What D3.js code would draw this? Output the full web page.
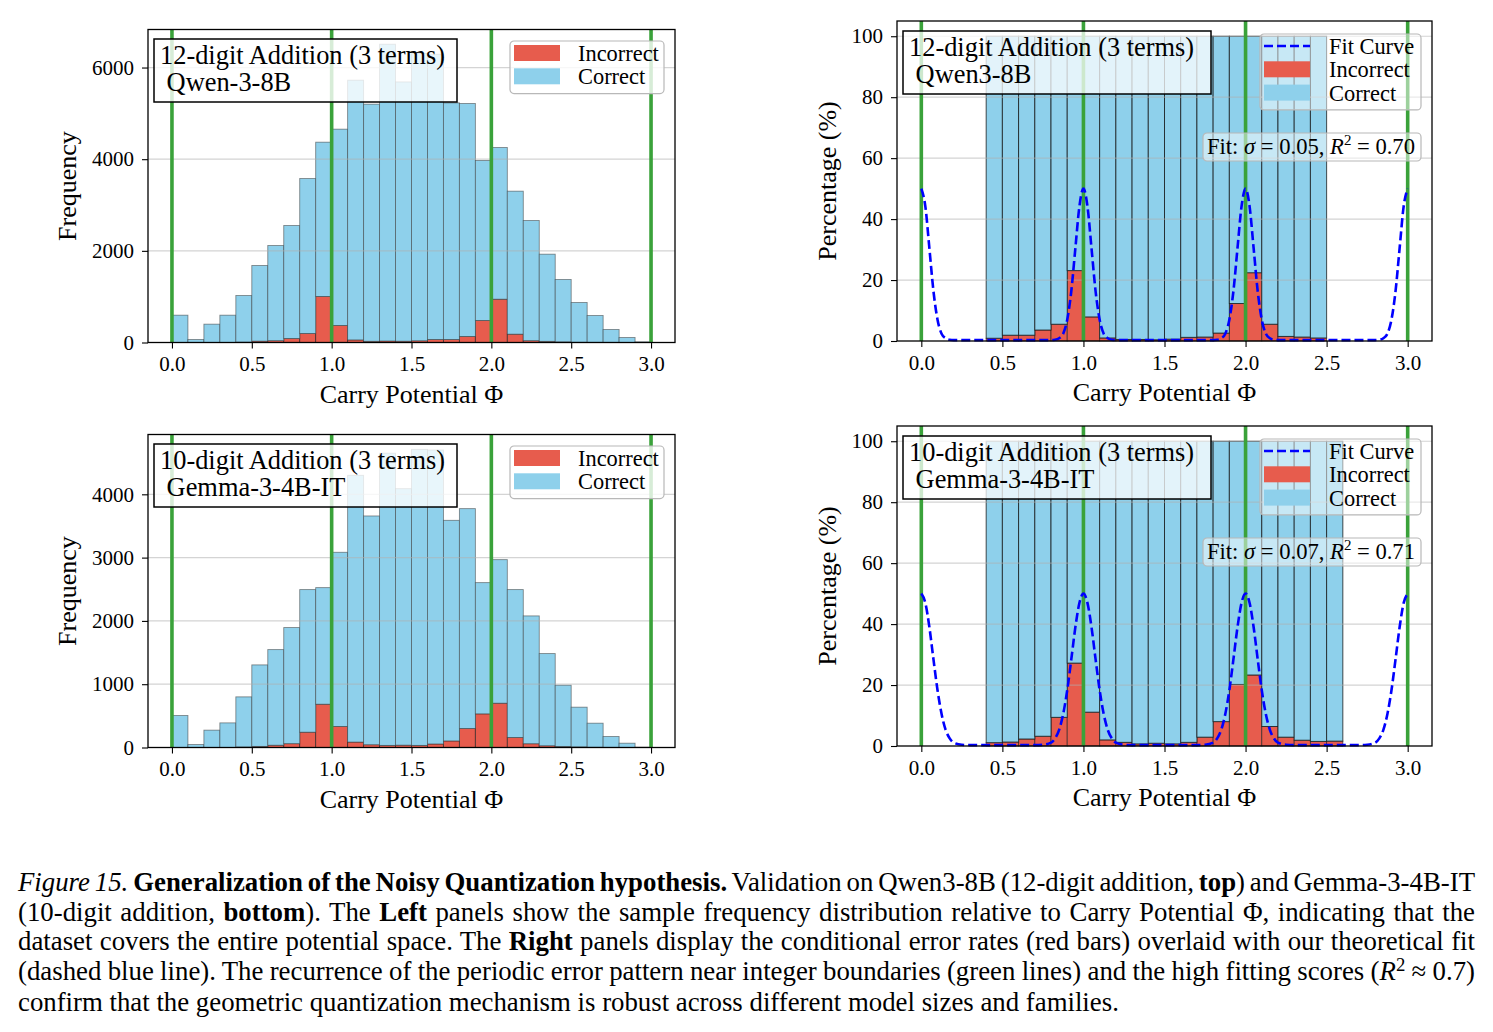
<!DOCTYPE html>
<html>
<head>
<meta charset="utf-8">
<script src="https://cdn.jsdelivr.net/npm/d3@7"></script>
<style>
  body { margin: 0; background: #fff; }
  #chart { position: relative; width: 1493px; height: 1032px; }
  svg text { font-family: "Liberation Serif", "Times New Roman", serif; fill: #000; }
  #caption {
    position: absolute; left: 18px; top: 868px; width: 1457px;
    font-family: "Liberation Serif", "Times New Roman", serif;
    font-size: 26.8px; line-height: 29.6px; color: #000;
  }
  #caption .ln { text-align: justify; text-align-last: justify; word-spacing: -3px; }
  #caption .ln.last { text-align: left; text-align-last: left; word-spacing: 0; }
  #caption .nb { white-space: nowrap; }
  #caption sup { font-size: 0.7em; vertical-align: 0; position: relative; top: -0.45em; }
</style>
</head>
<body>
<div id="chart"></div>
<script>
// histogram bins (left edge of each 0.1-wide bin)
const binWidth = 0.1;
const binStarts = [0.0, 0.1, 0.2, 0.3, 0.4, 0.5, 0.6, 0.7, 0.8, 0.9,
                   1.0, 1.1, 1.2, 1.3, 1.4, 1.5, 1.6, 1.7, 1.8, 1.9,
                   2.0, 2.1, 2.2, 2.3, 2.4, 2.5, 2.6, 2.7, 2.8, 2.9];

// Qwen3-8B, 12-digit addition: sample counts per bin
const qwenCorrect   = [596, 65, 400, 596, 1016, 1650, 2076, 2466, 3382, 3367,
                       4284, 5667, 5174, 6476, 5658, 6267, 6225, 5164, 5084, 3491,
                       3310, 3120, 2622, 1902, 1361, 868, 586, 282, 108, 15];
const qwenIncorrect = [0, 0, 0, 0, 9, 30, 40, 87, 196, 1004,
                       371, 57, 26, 33, 28, 38, 65, 65, 131, 480,
                       945, 182, 40, 25, 14, 5, 3, 2, 1, 0];

// Gemma-3-4B-IT, 10-digit addition: sample counts per bin
const gemmaCorrect   = [505, 47, 274, 389, 791, 1288, 1511, 1834, 2253, 1842,
                        2752, 4214, 3614, 4617, 4052, 4677, 4644, 3485, 3474, 2073,
                        2268, 2337, 2019, 1456, 969, 627, 380, 172, 67, 5];
const gemmaIncorrect = [0, 0, 0, 0, 9, 17, 36, 61, 242, 684,
                        332, 86, 44, 33, 37, 33, 56, 104, 300, 532,
                        700, 158, 60, 28, 15, 10, 4, 2, 1, 0];

// error rate (%) per bin, right panels
const qwenPctBins = [0.4, 0.5, 0.6, 0.7, 0.8, 0.9, 1.0, 1.1, 1.2, 1.3, 1.4,
                     1.5, 1.6, 1.7, 1.8, 1.9, 2.0, 2.1, 2.2, 2.3, 2.4];
const qwenPctIncorrect = [0.9, 1.9, 1.9, 3.6, 5.5, 23.1, 7.9, 1.0, 0.5, 0.5, 0.4,
                          0.6, 1.2, 1.3, 2.6, 12.3, 22.4, 5.5, 1.5, 1.3, 1.0];
const gemmaPctBins = [0.4, 0.5, 0.6, 0.7, 0.8, 0.9, 1.0, 1.1, 1.2, 1.3, 1.4,
                      1.5, 1.6, 1.7, 1.8, 1.9, 2.0, 2.1, 2.2, 2.3, 2.4, 2.5];
const gemmaPctIncorrect = [1.1, 1.3, 2.3, 3.2, 9.4, 27.2, 11.1, 2.0, 1.2, 0.7, 0.9,
                           0.7, 1.2, 2.9, 8.0, 20.2, 23.3, 6.4, 2.9, 1.9, 1.5, 1.6];

// fit curve: value read at distance from the nearest integer boundary
const fitOffsets = [0, 0.025, 0.05, 0.075, 0.1, 0.125, 0.15, 0.175, 0.2, 0.25, 0.3, 0.4, 0.5];
const qwenFit    = [50, 44.1, 30.3, 16.3, 7.0, 2.4, 0.9, 0.4, 0.3, 0.3, 0.3, 0.3, 0.3];
const gemmaFit   = [50, 46.9, 38.9, 28.4, 18.3, 10.5, 5.3, 2.5, 1.1, 0.4, 0.3, 0.3, 0.3];

const boundaries = [0, 1, 2, 3];
const xTicks = [0, 0.5, 1, 1.5, 2, 2.5, 3];
const qwenFreqTicks = [0, 2000, 4000, 6000];
const gemmaFreqTicks = [0, 1000, 2000, 3000, 4000];
const pctTicks = [0, 20, 40, 60, 80, 100];

const RED = "#e75c4d", BLUE = "#8ed0eb", GREEN = "#3aa23a";

const svg = d3.select("#chart").append("svg")
    .attr("width", 1493).attr("height", 850)
    .style("position", "absolute").style("left", 0).style("top", 0);

function axes(g, p, x, y, yTicks, fmt) {
    g.append("g")
        .attr("transform", `translate(0,${p.bottom})`)
        .call(d3.axisBottom(x).tickValues(xTicks).tickFormat(d3.format(".1f"))
            .tickSize(6).tickPadding(8).tickSizeOuter(0))
        .attr("font-size", 21)
        .call(a => a.select(".domain").remove());
    g.append("g")
        .attr("transform", `translate(${p.left},0)`)
        .call(d3.axisLeft(y).tickValues(yTicks).tickFormat(fmt)
            .tickSize(6).tickPadding(8).tickSizeOuter(0))
        .attr("font-size", 21)
        .call(a => a.select(".domain").remove());
    g.selectAll(".tick line").attr("stroke", "#000").attr("stroke-width", 1.1);

    // frame
    g.append("rect")
        .attr("x", p.left).attr("y", p.top)
        .attr("width", p.right - p.left).attr("height", p.bottom - p.top)
        .attr("fill", "none").attr("stroke", "#000").attr("stroke-width", 1.3);

    g.append("text")
        .attr("x", (p.left + p.right) / 2).attr("y", p.bottom + 60)
        .attr("text-anchor", "middle").attr("font-size", 26)
        .text("Carry Potential Φ");
    g.append("text")
        .attr("transform", `translate(${p.yLabelX},${(p.top + p.bottom) / 2}) rotate(-90)`)
        .attr("text-anchor", "middle").attr("font-size", 26)
        .text(p.yLabel);
}

function grid(g, p, y, yTicks) {
    g.append("g").selectAll("line")
        .data(yTicks.filter(t => t > 0))
        .join("line")
        .attr("x1", p.left).attr("x2", p.right)
        .attr("y1", d => y(d)).attr("y2", d => y(d))
        .attr("stroke", "#b0b0b0").attr("stroke-opacity", 0.55).attr("stroke-width", 1.2);
}

function greenLines(g, p, x) {
    g.append("g").selectAll("line")
        .data(boundaries)
        .join("line")
        .attr("x1", d => x(d)).attr("x2", d => x(d))
        .attr("y1", p.top).attr("y2", p.bottom)
        .attr("stroke", GREEN).attr("stroke-width", 3.6);
}

function titleBox(g, p, lines) {
    const b = g.append("g").attr("transform", `translate(${p.left + 6},${p.top + p.titleDy})`);
    b.append("rect")
        .attr("width", p.titleW).attr("height", 63)
        .attr("fill", "#fff").attr("fill-opacity", p.titleAlpha)
        .attr("stroke", "#000").attr("stroke-width", 1.5);
    b.append("text").attr("x", 6).attr("y", 25).attr("font-size", 26.4)
        .attr("xml:space", "preserve").text(lines[0]);
    b.append("text").attr("x", 6).attr("y", 52).attr("font-size", 26.4)
        .attr("xml:space", "preserve").text(lines[1]);
}

function legendBox(g, p, items, alpha) {
    const h = items.length * 23.3 + 6;
    const L = g.append("g").attr("transform", `translate(${p.right - p.legW - p.legDx},${p.top + p.legDy})`);
    L.append("rect")
        .attr("width", p.legW).attr("height", h).attr("rx", 4)
        .attr("fill", "#fff").attr("fill-opacity", alpha)
        .attr("stroke", "#b8b8b8").attr("stroke-width", 1.2);
    items.forEach((it, i) => {
        const cy = 12 + i * 23.3;
        if (it.type === "line") {
            L.append("line").attr("x1", 4).attr("x2", 50).attr("y1", cy).attr("y2", cy)
                .attr("stroke", "#0000ff").attr("stroke-width", 2.6).attr("stroke-dasharray", "9,4");
        } else {
            L.append("rect").attr("x", 4).attr("y", cy - 8).attr("width", 46).attr("height", 16)
                .attr("fill", it.color);
        }
        L.append("text").attr("x", p.legTextX).attr("y", cy + 8).attr("font-size", 22.4).text(it.label);
    });
}

function histPanel(p) {
    const g = svg.append("g");
    const x = d3.scaleLinear().domain([-0.15, 3.15]).range([p.left, p.right]);
    const y = d3.scaleLinear().domain([0, p.yMax]).range([p.bottom, p.top]);
    const rows = binStarts.map((b, i) => ({ b, inc: p.incorrect[i], cor: p.correct[i] }));

    g.append("g").selectAll("rect")
        .data(rows.filter(d => d.inc > 0))
        .join("rect")
        .attr("x", d => x(d.b)).attr("width", d => x(d.b + binWidth) - x(d.b))
        .attr("y", d => y(d.inc)).attr("height", d => y(0) - y(d.inc))
        .attr("fill", RED).attr("stroke", "#222").attr("stroke-opacity", 0.7).attr("stroke-width", 0.9);
    g.append("g").selectAll("rect")
        .data(rows)
        .join("rect")
        .attr("x", d => x(d.b)).attr("width", d => x(d.b + binWidth) - x(d.b))
        .attr("y", d => y(d.inc + d.cor)).attr("height", d => y(d.inc) - y(d.inc + d.cor))
        .attr("fill", BLUE).attr("stroke", "#333").attr("stroke-opacity", 0.55).attr("stroke-width", 0.9);

    grid(g, p, y, p.yTicks);
    greenLines(g, p, x);
    axes(g, p, x, y, p.yTicks, d3.format("d"));
    titleBox(g, p, p.title);
    legendBox(g, p, [
        { type: "patch", color: RED, label: "Incorrect" },
        { type: "patch", color: BLUE, label: "Correct" }
    ], 0.8);
}

function pctPanel(p) {
    const g = svg.append("g");
    const x = d3.scaleLinear().domain([-0.15, 3.15]).range([p.left, p.right]);
    const y = d3.scaleLinear().domain([0, 105]).range([p.bottom, p.top]);
    const rows = p.bins.map((b, i) => ({ b, inc: p.pct[i] }));

    g.append("g").selectAll("rect")
        .data(rows)
        .join("rect")
        .attr("x", d => x(d.b)).attr("width", d => x(d.b + binWidth) - x(d.b))
        .attr("y", d => y(d.inc)).attr("height", d => y(0) - y(d.inc))
        .attr("fill", RED).attr("stroke", "#222").attr("stroke-opacity", 0.7).attr("stroke-width", 0.9);
    g.append("g").selectAll("rect")
        .data(rows)
        .join("rect")
        .attr("x", d => x(d.b)).attr("width", d => x(d.b + binWidth) - x(d.b))
        .attr("y", y(100)).attr("height", d => y(d.inc) - y(100))
        .attr("fill", BLUE).attr("stroke", "#111").attr("stroke-opacity", 0.75).attr("stroke-width", 1);

    grid(g, p, y, pctTicks);
    greenLines(g, p, x);

    // fit curve points: each boundary with the read profile on both sides
    const pts = [];
    boundaries.forEach(c => fitOffsets.forEach((o, i) => {
        [c - o, c + o].forEach(xv => {
            if (xv >= 0 && xv <= 3) pts.push([+xv.toFixed(4), p.fit[i]]);
        });
    }));
    const curve = d3.groups(pts, d => d[0]).map(([k, v]) => [k, v[0][1]]).sort((a, b) => a[0] - b[0]);
    g.append("path")
        .datum(curve)
        .attr("d", d3.line().x(d => x(d[0])).y(d => y(d[1])).curve(d3.curveMonotoneX))
        .attr("fill", "none").attr("stroke", "#0000ff").attr("stroke-width", 2.6)
        .attr("stroke-dasharray", "9,4");

    axes(g, p, x, y, pctTicks, d3.format("d"));
    titleBox(g, p, p.title);
    legendBox(g, p, [
        { type: "line", label: "Fit Curve" },
        { type: "patch", color: RED, label: "Incorrect" },
        { type: "patch", color: BLUE, label: "Correct" }
    ], 0.5);

    // fit annotation
    const f = g.append("g").attr("transform", `translate(${p.right - 229},${p.top + 112})`);
    f.append("rect").attr("width", 218).attr("height", 28).attr("rx", 4)
        .attr("fill", "#fff").attr("fill-opacity", 0.5)
        .attr("stroke", "#b8b8b8").attr("stroke-width", 1.2);
    const t = f.append("text").attr("x", 4).attr("y", 21).attr("font-size", 22.6);
    t.append("tspan").text("Fit: ");
    t.append("tspan").attr("font-style", "italic").text("σ");
    t.append("tspan").text(" = " + p.sigma + ", ");
    t.append("tspan").attr("font-style", "italic").text("R");
    t.append("tspan").attr("font-size", 15).attr("dy", -9).text("2");
    t.append("tspan").attr("dy", 9).text(" = " + p.r2);
}

histPanel({
    left: 148, right: 675, top: 29.5, bottom: 342.5, yMax: 6830,
    correct: qwenCorrect, incorrect: qwenIncorrect, yTicks: qwenFreqTicks,
    yLabel: "Frequency", yLabelX: 76,
    title: ["12-digit Addition (3 terms)", " Qwen-3-8B"], titleDy: 9.5, titleW: 303, titleAlpha: 0.8,
    legW: 154, legDx: 11, legDy: 11.5, legTextX: 68
});
histPanel({
    left: 148, right: 675, top: 434.5, bottom: 747.5, yMax: 4945,
    correct: gemmaCorrect, incorrect: gemmaIncorrect, yTicks: gemmaFreqTicks,
    yLabel: "Frequency", yLabelX: 76,
    title: ["10-digit Addition (3 terms)", " Gemma-3-4B-IT"], titleDy: 9.5, titleW: 303, titleAlpha: 0.8,
    legW: 154, legDx: 11, legDy: 11.5, legTextX: 68
});
pctPanel({
    left: 897, right: 1432, top: 21, bottom: 341,
    bins: qwenPctBins, pct: qwenPctIncorrect, fit: qwenFit, sigma: "0.05", r2: "0.70",
    yLabel: "Percentage (%)", yLabelX: 836,
    title: ["12-digit Addition (3 terms)", " Qwen3-8B"], titleDy: 10, titleW: 308, titleAlpha: 0.75,
    legW: 161, legDx: 11, legDy: 13, legTextX: 69
});
pctPanel({
    left: 897, right: 1432, top: 426, bottom: 746,
    bins: gemmaPctBins, pct: gemmaPctIncorrect, fit: gemmaFit, sigma: "0.07", r2: "0.71",
    yLabel: "Percentage (%)", yLabelX: 836,
    title: ["10-digit Addition (3 terms)", " Gemma-3-4B-IT"], titleDy: 10, titleW: 308, titleAlpha: 0.75,
    legW: 161, legDx: 11, legDy: 13, legTextX: 69
});
</script>
<div id="caption">
  <div class="ln"><i>Figure 15.</i> <b>Generalization of the Noisy Quantization hypothesis.</b> Validation on <span class="nb">Qwen3-8B</span> (<span class="nb">12-digit</span> addition, <b>top</b>) and <span class="nb">Gemma-3-4B-IT</span></div>
  <div class="ln">(<span class="nb">10-digit</span> addition, <b>bottom</b>). The <b>Left</b> panels show the sample frequency distribution relative to Carry Potential Φ, indicating that the</div>
  <div class="ln">dataset covers the entire potential space. The <b>Right</b> panels display the conditional error rates (red bars) overlaid with our theoretical fit</div>
  <div class="ln">(dashed blue line). The recurrence of the periodic error pattern near integer boundaries (green lines) and the high fitting scores (<i>R</i><sup>2</sup> ≈ 0.7)</div>
  <div class="ln last">confirm that the geometric quantization mechanism is robust across different model sizes and families.</div>
</div>
</body>
</html>
